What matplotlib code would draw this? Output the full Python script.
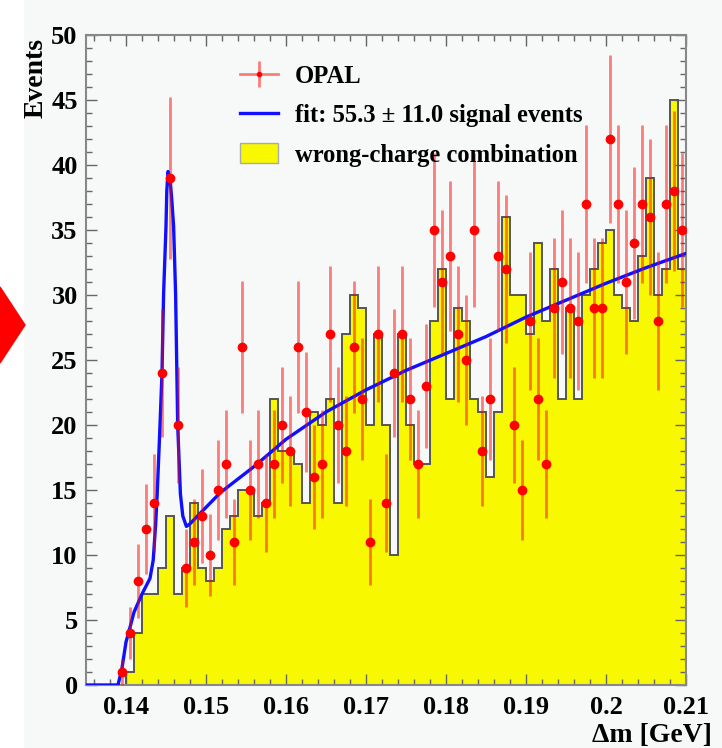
import matplotlib.pyplot as plt
import numpy as np
from matplotlib.lines import Line2D
from matplotlib.patches import Patch, Polygon

plt.rcParams['font.family'] = ['Liberation Serif', 'DejaVu Serif']
plt.rcParams['font.weight'] = 'bold'

# wrong-charge combination histogram, 1 MeV bins from 0.135 to 0.210 GeV
bin_edges = np.linspace(0.135, 0.210, 76)
wrong_charge = [0, 0, 0, 0, 0, 1, 4, 7, 7, 9,
                13, 7, 9, 14, 9, 8, 9, 12, 13, 15,
                15, 13, 14, 22, 18, 18, 17, 14, 21, 20,
                22, 14, 27, 30, 29, 20, 27, 20, 10, 27,
                20, 17, 17, 28, 32, 22, 29, 28, 22, 21,
                16, 21, 36, 30, 30, 27, 34, 28, 32, 22,
                29, 22, 30, 32, 34, 35, 30, 29, 28, 33,
                39, 30, 32, 45, 32]

# OPAL right-charge data, starting at the 5th bin (first four bins empty)
opal_first_bin = 4
opal = [1, 4, 8, 12, 14, 24, 39, 20, 9, 11, 13, 10, 15, 17, 11,
        26, 15, 17, 14, 17, 20, 18, 26, 21, 16, 17, 27, 20, 18, 26, 22, 11, 27,
        14, 24, 27, 22, 17, 23, 35, 31, 33, 27, 25, 35, 18, 22, 33, 32, 20, 15, 28,
        22, 17, 29, 31, 29, 28, 37, 29, 29, 42, 37, 31, 34, 37, 36, 28, 37, 38, 35]

# fit curve
fit_x = [0.1350, 0.1390, 0.1395, 0.1400, 0.1404, 0.1410, 0.1420, 0.1430,
         0.1434, 0.1437, 0.1439, 0.1442, 0.1445, 0.1447, 0.1450, 0.1451,
         0.14525, 0.1455, 0.1457, 0.14595, 0.1462, 0.1464, 0.14646, 0.1468,
         0.1471, 0.14755, 0.1480, 0.1491, 0.1518, 0.1560, 0.1600, 0.1650,
         0.1700, 0.1750, 0.1800, 0.1850, 0.1900, 0.1950, 0.2000, 0.2050,
         0.2100]
fit_y = [0, 0, 1.3, 3.3, 4.2, 5.6, 7.0, 8.2,
         9.6, 12.3, 14.7, 19.2, 24.0, 30.1, 35.3, 38.0,
         39.5, 39.0, 37.5, 35.3, 30.1, 22.4, 20.0, 14.7,
         13.0, 12.2, 12.4, 13.1, 14.8, 16.8, 18.9, 21.0,
         22.7, 24.2, 25.5, 26.8, 28.3, 29.6, 30.9, 32.1,
         33.2]

bg = '#f6f9f7'
yellow = '#f8f800'
pink = (1.0, 0.0, 0.0, 0.5)
blue = '#1010ff'

fig = plt.figure(figsize=(7.22, 7.48), dpi=100, facecolor=bg)
fig.patches.append(plt.Rectangle((0, 0), 23 / 722, 1, transform=fig.transFigure,
                                 color='white', zorder=-1))
fig.patches.append(Polygon([(0, 1 - 287 / 748), (25 / 722, 1 - 325 / 748), (0, 1 - 363 / 748)],
                           closed=True, transform=fig.transFigure, color='red', zorder=-1))

ax = fig.add_axes([86 / 722, 63 / 748, 600 / 722, 650 / 748])
ax.set_facecolor(bg)

ax.stairs(wrong_charge, bin_edges, fill=True, color=yellow, zorder=1)
ax.stairs(wrong_charge, bin_edges, color='#555555', lw=1.4, zorder=2)

ax.plot(fit_x, fit_y, color=blue, lw=2.4, zorder=3)

centers = 0.5 * (bin_edges[:-1] + bin_edges[1:])
xs = centers[opal_first_bin:opal_first_bin + len(opal)]
ys = np.array(opal, dtype=float)
ax.errorbar(xs, ys, yerr=np.sqrt(ys), fmt='none', ecolor=pink, elinewidth=2, zorder=4)
ax.plot(xs, ys, 'o', color='red', ms=6, mec='red', zorder=5)

ax.set_xlim(0.135, 0.210)
ax.set_ylim(0, 50)
ax.set_xticks(np.arange(0.14, 0.2101, 0.01))
ax.set_xticklabels(['0.14', '0.15', '0.16', '0.17', '0.18', '0.19', '0.2', '0.21'])
ax.set_xticks(np.arange(0.136, 0.2101, 0.002), minor=True)
ax.set_yticks(np.arange(0, 51, 5))
ax.set_yticks(np.arange(0, 51, 1), minor=True)
ax.tick_params(which='both', direction='in', top=True, right=True, color='#666666',
               labelsize=19, width=1)
ax.tick_params(which='major', length=8)
ax.tick_params(which='minor', length=4)
ax.tick_params(axis='x', pad=8)
ax.tick_params(axis='y', pad=6)
for s in ax.spines.values():
    s.set_color('#888888')
    s.set_linewidth(1.5)

ax.set_xlabel('Δm [GeV]', fontsize=20, fontweight='bold', ha='right')
ax.xaxis.set_label_coords(1.043, -0.058)
ax.set_ylabel('Events', fontsize=20, fontweight='bold', ha='right')
ax.yaxis.set_label_coords(-0.063, 0.995)

opal_handle = (Line2D([], [], color=pink, lw=2),
               Line2D([], [], ls='', marker='|', ms=19, mew=2, color=pink),
               Line2D([], [], ls='', marker='o', ms=3, color='red'))
fit_handle = Line2D([], [], color=blue, lw=2.4)
wc_handle = Patch(facecolor=yellow, edgecolor='#aaaaaa')
ax.legend([opal_handle, fit_handle, wc_handle],
          ['OPAL', 'fit: 55.3 ± 11.0 signal events', 'wrong-charge combination'],
          loc='upper left', bbox_to_anchor=(0.236, 0.973), frameon=False,
          fontsize=17.7, handlelength=1.55, handleheight=0.85, handletextpad=0.69,
          labelspacing=0.65, borderpad=0)

fig.savefig('out.png', dpi=100, facecolor=bg)
